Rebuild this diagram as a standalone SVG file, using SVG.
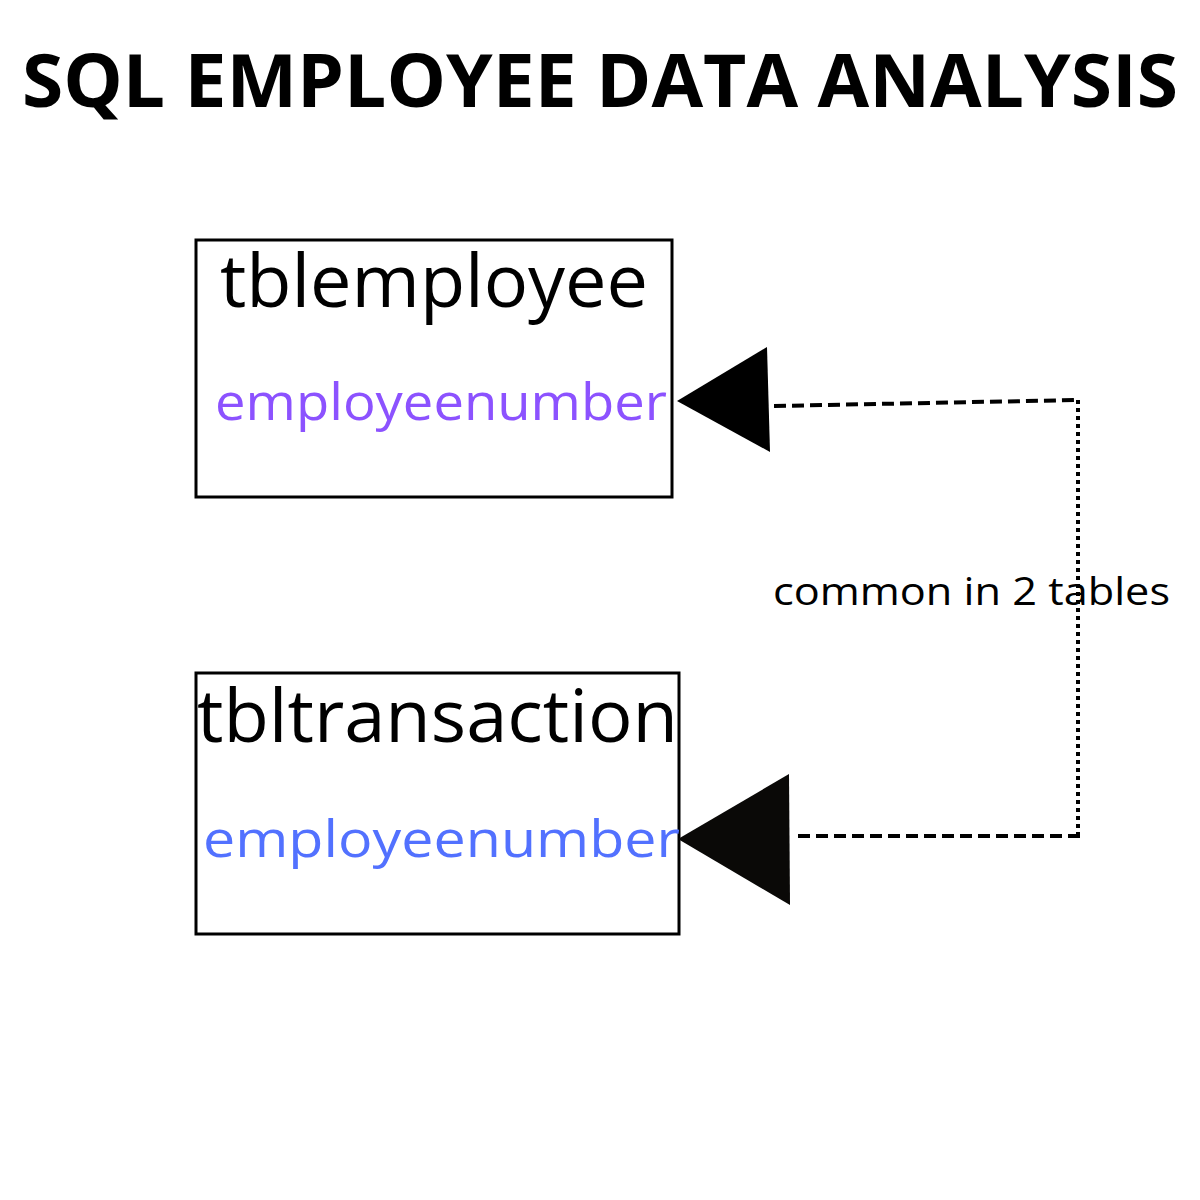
<svg xmlns="http://www.w3.org/2000/svg" width="1200" height="1200" viewBox="0 0 1200 1200">
<style>
.box{fill:#fff;stroke:#000;stroke-width:3}
.title{font-family:"Open Sans","Liberation Sans",sans-serif;font-weight:700;font-size:74px;fill:#000}
.tname{font-family:"Open Sans","Liberation Sans",sans-serif;font-size:74px;fill:#000}
.field{font-family:"Open Sans","Liberation Sans",sans-serif;font-size:52px}
.label{font-family:"Open Sans","Liberation Sans",sans-serif;font-size:39px;fill:#000}
.dash{fill:none;stroke:#000;stroke-width:4;stroke-dasharray:12,6}
.dot{fill:none;stroke:#000;stroke-width:4;stroke-dasharray:4,4}
</style>
<rect width="1200" height="1200" fill="#fff"/>
<text class="title" x="22" y="107" textLength="1156" lengthAdjust="spacingAndGlyphs">SQL EMPLOYEE DATA ANALYSIS</text>
<g id="tblemployee">
<rect class="box" x="196" y="240" width="476" height="257"/>
<text class="tname" x="220" y="307" textLength="428" lengthAdjust="spacingAndGlyphs">tblemployee</text>
<text class="field" x="215" y="420" fill="#8C52FF" textLength="452" lengthAdjust="spacingAndGlyphs">employeenumber</text>
</g>
<g id="tbltransaction">
<rect class="box" x="196" y="673" width="483" height="261"/>
<text class="tname" x="197" y="742" textLength="481" lengthAdjust="spacingAndGlyphs">tbltransaction</text>
<text class="field" x="203" y="857" fill="#5271FF" textLength="477" lengthAdjust="spacingAndGlyphs">employeenumber</text>
</g>
<g id="connectors">
<polygon points="677,401 767,347 770,452" fill="#000"/>
<polyline class="dash" points="774,406 1078,400"/>
<polyline class="dot" points="1078,400 1078,836"/>
<polyline class="dash" points="1080,836 795,836"/>
<polygon points="678,839 789,774 790,905" fill="#0a0907"/>
<text class="label" x="773" y="605" textLength="397" lengthAdjust="spacingAndGlyphs">common in 2 tables</text>
</g>
</svg>
